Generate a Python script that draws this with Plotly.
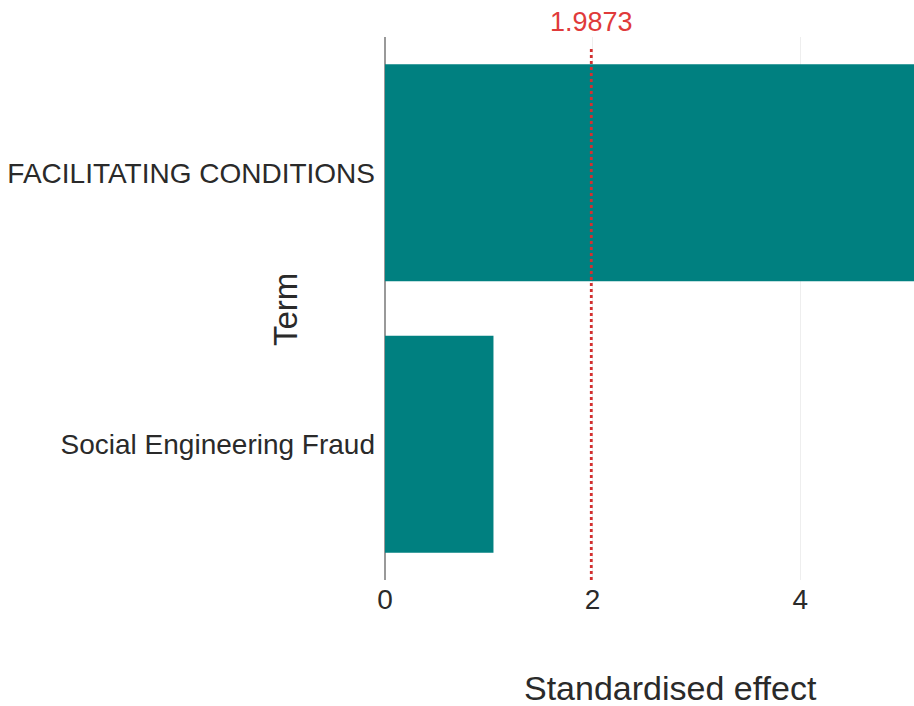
import plotly.graph_objects as go

terms = ["Social Engineering Fraud", "FACILITATING CONDITIONS"]
effects = [1.045, 5.8]
threshold = 1.9873
x_ticks = [0, 2, 4]

FONT = "Liberation Sans, Arial, sans-serif"
W, H = 914, 706
L, R, T, B = 385, 0, 37, 126
plot_h = H - T - B
plot_w = W - L - R
px_per_unit = 103.8

fig = go.Figure()
fig.add_trace(go.Bar(
    x=effects, y=terms, orientation="h",
    marker=dict(color="#008080", line=dict(width=0)),
    width=0.8, showlegend=False, hoverinfo="skip",
))

fig.add_shape(type="line", xref="x", yref="paper",
              x0=threshold, x1=threshold, y0=0, y1=1 - 10 / plot_h,
              line=dict(color="#d32f2f", width=2.8, dash="dot"))
fig.add_annotation(x=threshold, xref="x", y=1 + (T - 22) / plot_h, yref="paper",
                   text=f"{threshold}", showarrow=False,
                   xanchor="center", yanchor="middle",
                   font=dict(family=FONT, size=27, color="#e03a3a"))

fig.add_annotation(x=(670 - L) / plot_w, xref="paper", y=-(688 - (H - B)) / plot_h, yref="paper",
                   text="Standardised effect", showarrow=False,
                   xanchor="center", yanchor="middle",
                   font=dict(family=FONT, size=34, color="#2a2a2a"))
fig.add_annotation(x=-(L - 285) / plot_w, xref="paper", y=1 - (310 - T) / plot_h, yref="paper",
                   text="Term", showarrow=False, textangle=-90,
                   xanchor="center", yanchor="middle",
                   font=dict(family=FONT, size=33, color="#2a2a2a"))

fig.update_layout(
    width=W, height=H,
    margin=dict(l=L, r=R, t=T, b=B, pad=0),
    paper_bgcolor="white", plot_bgcolor="white",
    font=dict(family=FONT, size=28, color="#2a2a2a"),
    bargap=0.2,
)
fig.update_xaxes(
    range=[0, plot_w / px_per_unit],
    tickvals=x_ticks, ticktext=[str(v) for v in x_ticks],
    showgrid=True, gridcolor="#eeeeee", gridwidth=1,
    zeroline=True, zerolinecolor="#999999", zerolinewidth=2,
    showline=False, ticks="", tickfont=dict(size=28, color="#2a2a2a"),
)
fig.update_yaxes(
    range=[-0.5, 1.5],
    showgrid=False, zeroline=False, showline=False, ticks="",
    ticklabelstandoff=9,
    tickfont=dict(size=28, color="#2a2a2a"),
)

fig.write_html(
    "out.html",
    config={"displayModeBar": False},
    post_script="document.body.style.margin='0';document.documentElement.style.overflow='hidden';",
)
